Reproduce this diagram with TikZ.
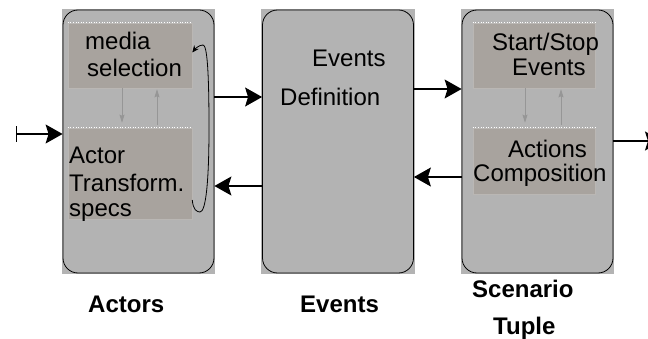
\documentclass[tikz,border=0pt]{standalone}
\usepackage{fontspec}
\setmainfont{Liberation Sans}
\usetikzlibrary{arrows.meta}
\usetikzlibrary{backgrounds}
\definecolor{blockgray}{RGB}{179,179,179}
\definecolor{subgray}{RGB}{168,163,158}
\definecolor{subedge}{RGB}{186,183,180}
\definecolor{linkgray}{RGB}{150,150,150}

\begin{document}
\begin{tikzpicture}[x=1pt, y=-1pt,
  block/.style={draw=black, line width=.8pt, fill=blockgray, rounded corners=15pt, minimum width=151pt, minimum height=263pt, inner sep=0},
  subblock/.style={draw=subedge, fill=subgray, line width=.6pt, inner sep=0},
  txt/.style={font=\fontsize{24}{28}\selectfont, inner sep=0, anchor=base west},
  blocklabel/.style={txt, font=\fontsize{24}{28}\selectfont\bfseries},
  flow/.style={black, line width=1.4pt, -{Stealth[length=17pt,width=19pt,inset=3pt]}},
  link/.style={linkgray, line width=.8pt, -{Stealth[length=8pt,width=5pt,inset=1pt]}}]
\useasboundingbox (0,0) rectangle (648,339);
\clip (0,0) rectangle (648,339);

% the three blocks, each on a square gray patch
\node[block] (actors) at (138.5,141.5) {};
\node[block] (events) at (338,141.5) {};
\node[block] (scen) at (537.5,141.5) {};
\begin{scope}[on background layer]
\foreach \b in {actors,events,scen}
  \fill[blockgray] ([shift={(-1pt,-1pt)}]\b.south west) rectangle ([shift={(1pt,1pt)}]\b.north east);
\end{scope}

\node[subblock, minimum width=124pt, minimum height=65pt] (media) at (130,55.5) {};
\node[subblock, minimum width=124pt, minimum height=91pt] (transf) at (130,173.5) {};
\node[subblock, minimum width=122pt, minimum height=65pt] (startstop) at (534,55.5) {};
\node[subblock, minimum width=122pt, minimum height=66pt] (compose) at (534,161) {};
\foreach \b in {media,transf,startstop,compose}
  \draw[white, dotted, line width=.6pt] (\b.north west) -- (\b.north east);

\node[txt] (mediatxt) at (85,50) {media};
\node[txt] (seltxt) at (87,77) {selection};
\node[txt] (actortxt) at (69,164) {Actor};
\node[txt] (transtxt) at (69,192) {Transform.};
\node[txt] (specstxt) at (69,217) {specs};
\node[txt] (evtxt) at (312,67) {Events};
\node[txt] (deftxt) at (280,106) {Definition};
\node[txt] (starttxt) at (492,51) {Start/Stop};
\node[txt] (sevtxt) at (512,76) {Events};
\node[txt] (acttxt) at (508,158) {Actions};
\node[txt] (comptxt) at (473,182) {Composition};

\node[blocklabel] (actorslbl) at (88,312) {Actors};
\node[blocklabel] (eventslbl) at (300,312) {Events};
\node[blocklabel] (scenlbl) at (472,297) {Scenario};
\node[blocklabel] (tuplelbl) at (493,334) {Tuple};

% links between the blocks
\coordinate (in) at (16,134);
\coordinate (out) at (662,141);
\draw[flow, arrows={Bar[width=16pt]-Stealth[length=17pt,width=19pt,inset=3pt]}] (in) -- ([yshift=7.5pt]actors.west);
\draw[flow] ([yshift=44.5pt]actors.east) -- ([yshift=44.5pt]events.west);
\draw[flow] ([yshift=-44.5pt]events.west) -- ([yshift=-44.5pt]actors.east);
\draw[flow] ([yshift=52.5pt]events.east) -- ([yshift=52.5pt]scen.west);
\draw[flow] ([yshift=-35.5pt]scen.west) -- ([yshift=-35.5pt]events.east);
\draw[flow] (scen.east |- out) -- (out);

% inner links
\draw[link, shorten >=5pt] ([xshift=-8pt]media.south) -- ([xshift=-8pt]transf.north);
\draw[link, shorten <=3pt, shorten >=1pt] ([xshift=27pt]transf.north) -- ([xshift=27pt]media.south);
\draw[link, shorten >=5pt] ([xshift=-9pt]startstop.south) -- ([xshift=-9pt]compose.north);
\draw[link, shorten <=3pt, shorten >=1pt] ([xshift=27pt]compose.north) -- ([xshift=27pt]startstop.south);

% feedback loop
\draw[line width=.8pt, -{Stealth[length=7pt,width=6pt]}] ([yshift=-26.5pt]transf.east)
  .. controls (193,210) and (197,212) .. (200,212)
  .. controls (206,212) and (209,180) .. (209,128)
  .. controls (209,70) and (207,45) .. (203,45)
  .. controls (199,45) and (195,49) .. ([yshift=3pt]media.east);
\end{tikzpicture}
\end{document}
